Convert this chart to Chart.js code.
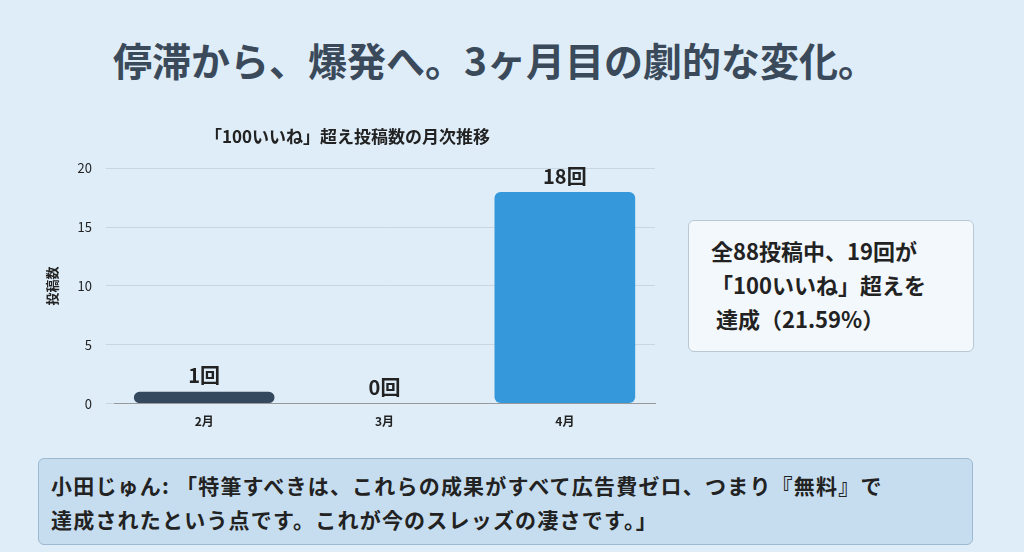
<!DOCTYPE html>
<html><head><meta charset="utf-8">
<script src="https://cdn.jsdelivr.net/npm/chart.js@4"></script>
<style>
body{margin:0;width:1024px;height:552px;background:#deedf8;font-family:"Noto Sans CJK JP",sans-serif;position:relative;overflow:hidden}
h1{position:absolute;top:34px;left:0;width:990px;text-align:center;margin:0;font-size:39px;font-weight:700;color:#3b4a5a;line-height:50px}
#wrap{position:absolute;left:40px;top:126px;width:625px;height:306px}
.box{position:absolute;left:688px;top:220px;width:286px;height:132px;background:#f3f8fc;border:1px solid #b9c8d4;border-radius:6px;box-sizing:border-box;padding:12px 0 0 22px;font-size:22px;font-weight:700;color:#222;line-height:34px}
.quote{position:absolute;left:38px;top:458px;width:935px;height:87px;background:#c6ddef;border:1px solid #9db9d1;border-radius:6px;box-sizing:border-box;padding:9px 0 0 12px;font-size:21px;letter-spacing:1.2px;font-weight:700;color:#222;line-height:34px}
</style></head><body>
<h1>停滞から、爆発へ。3ヶ月目の劇的な変化。</h1>
<div id="wrap"><canvas id="c"></canvas></div>
<div class="box">全88投稿中、19回が<br>「100いいね」超えを<br>&nbsp;達成（21.59%）</div>
<div class="quote">小田じゅん: 「特筆すべきは、これらの成果がすべて広告費ゼロ、つまり『無料』で<br>達成されたという点です。これが今のスレッズの凄さです。」</div>
<script>
const categories=["2月","3月","4月"];
const values=[1,0,18];
const labels=["1回","0回","18回"];
const colors=["#34495e","#34495e","#3498db"];
const ticks=[0,5,10,15,20];
const valPlugin={id:"v",afterDatasetsDraw(ch){const c=ch.ctx;const m=ch.getDatasetMeta(0);c.save();c.font="bold 20px 'Noto Sans CJK JP'";c.fillStyle="#222";c.textAlign="center";c.textBaseline="bottom";m.data.forEach((b,i)=>c.fillText(labels[i],b.x,b.y-6));c.restore();}};
new Chart(document.getElementById("c"),{type:"bar",
data:{labels:categories,datasets:[{data:values,backgroundColor:colors,borderRadius:6,borderSkipped:false,barPercentage:0.78,categoryPercentage:1}]},
options:{responsive:true,maintainAspectRatio:false,animation:false,layout:{padding:{right:10}},
plugins:{legend:{display:false},tooltip:{enabled:false},title:{display:true,text:"「100いいね」超え投稿数の月次推移",font:{size:17,weight:"bold",family:"Noto Sans CJK JP"},color:"#222",padding:{top:0,bottom:22}}},
scales:{x:{grid:{display:false},border:{color:"#999"},ticks:{color:"#222",font:{size:12,weight:"bold",family:"Noto Sans CJK JP"}}},
y:{min:0,max:20,afterBuildTicks(a){a.ticks=ticks.map(v=>({value:v}));},grid:{color:"#c8d6e2"},border:{display:false},ticks:{color:"#222",padding:14,font:{size:13,family:"Noto Sans CJK JP"}},title:{display:true,text:"投稿数",color:"#222",font:{size:13,weight:"bold",family:"Noto Sans CJK JP"}}}}},
plugins:[valPlugin]});
</script></body></html>
